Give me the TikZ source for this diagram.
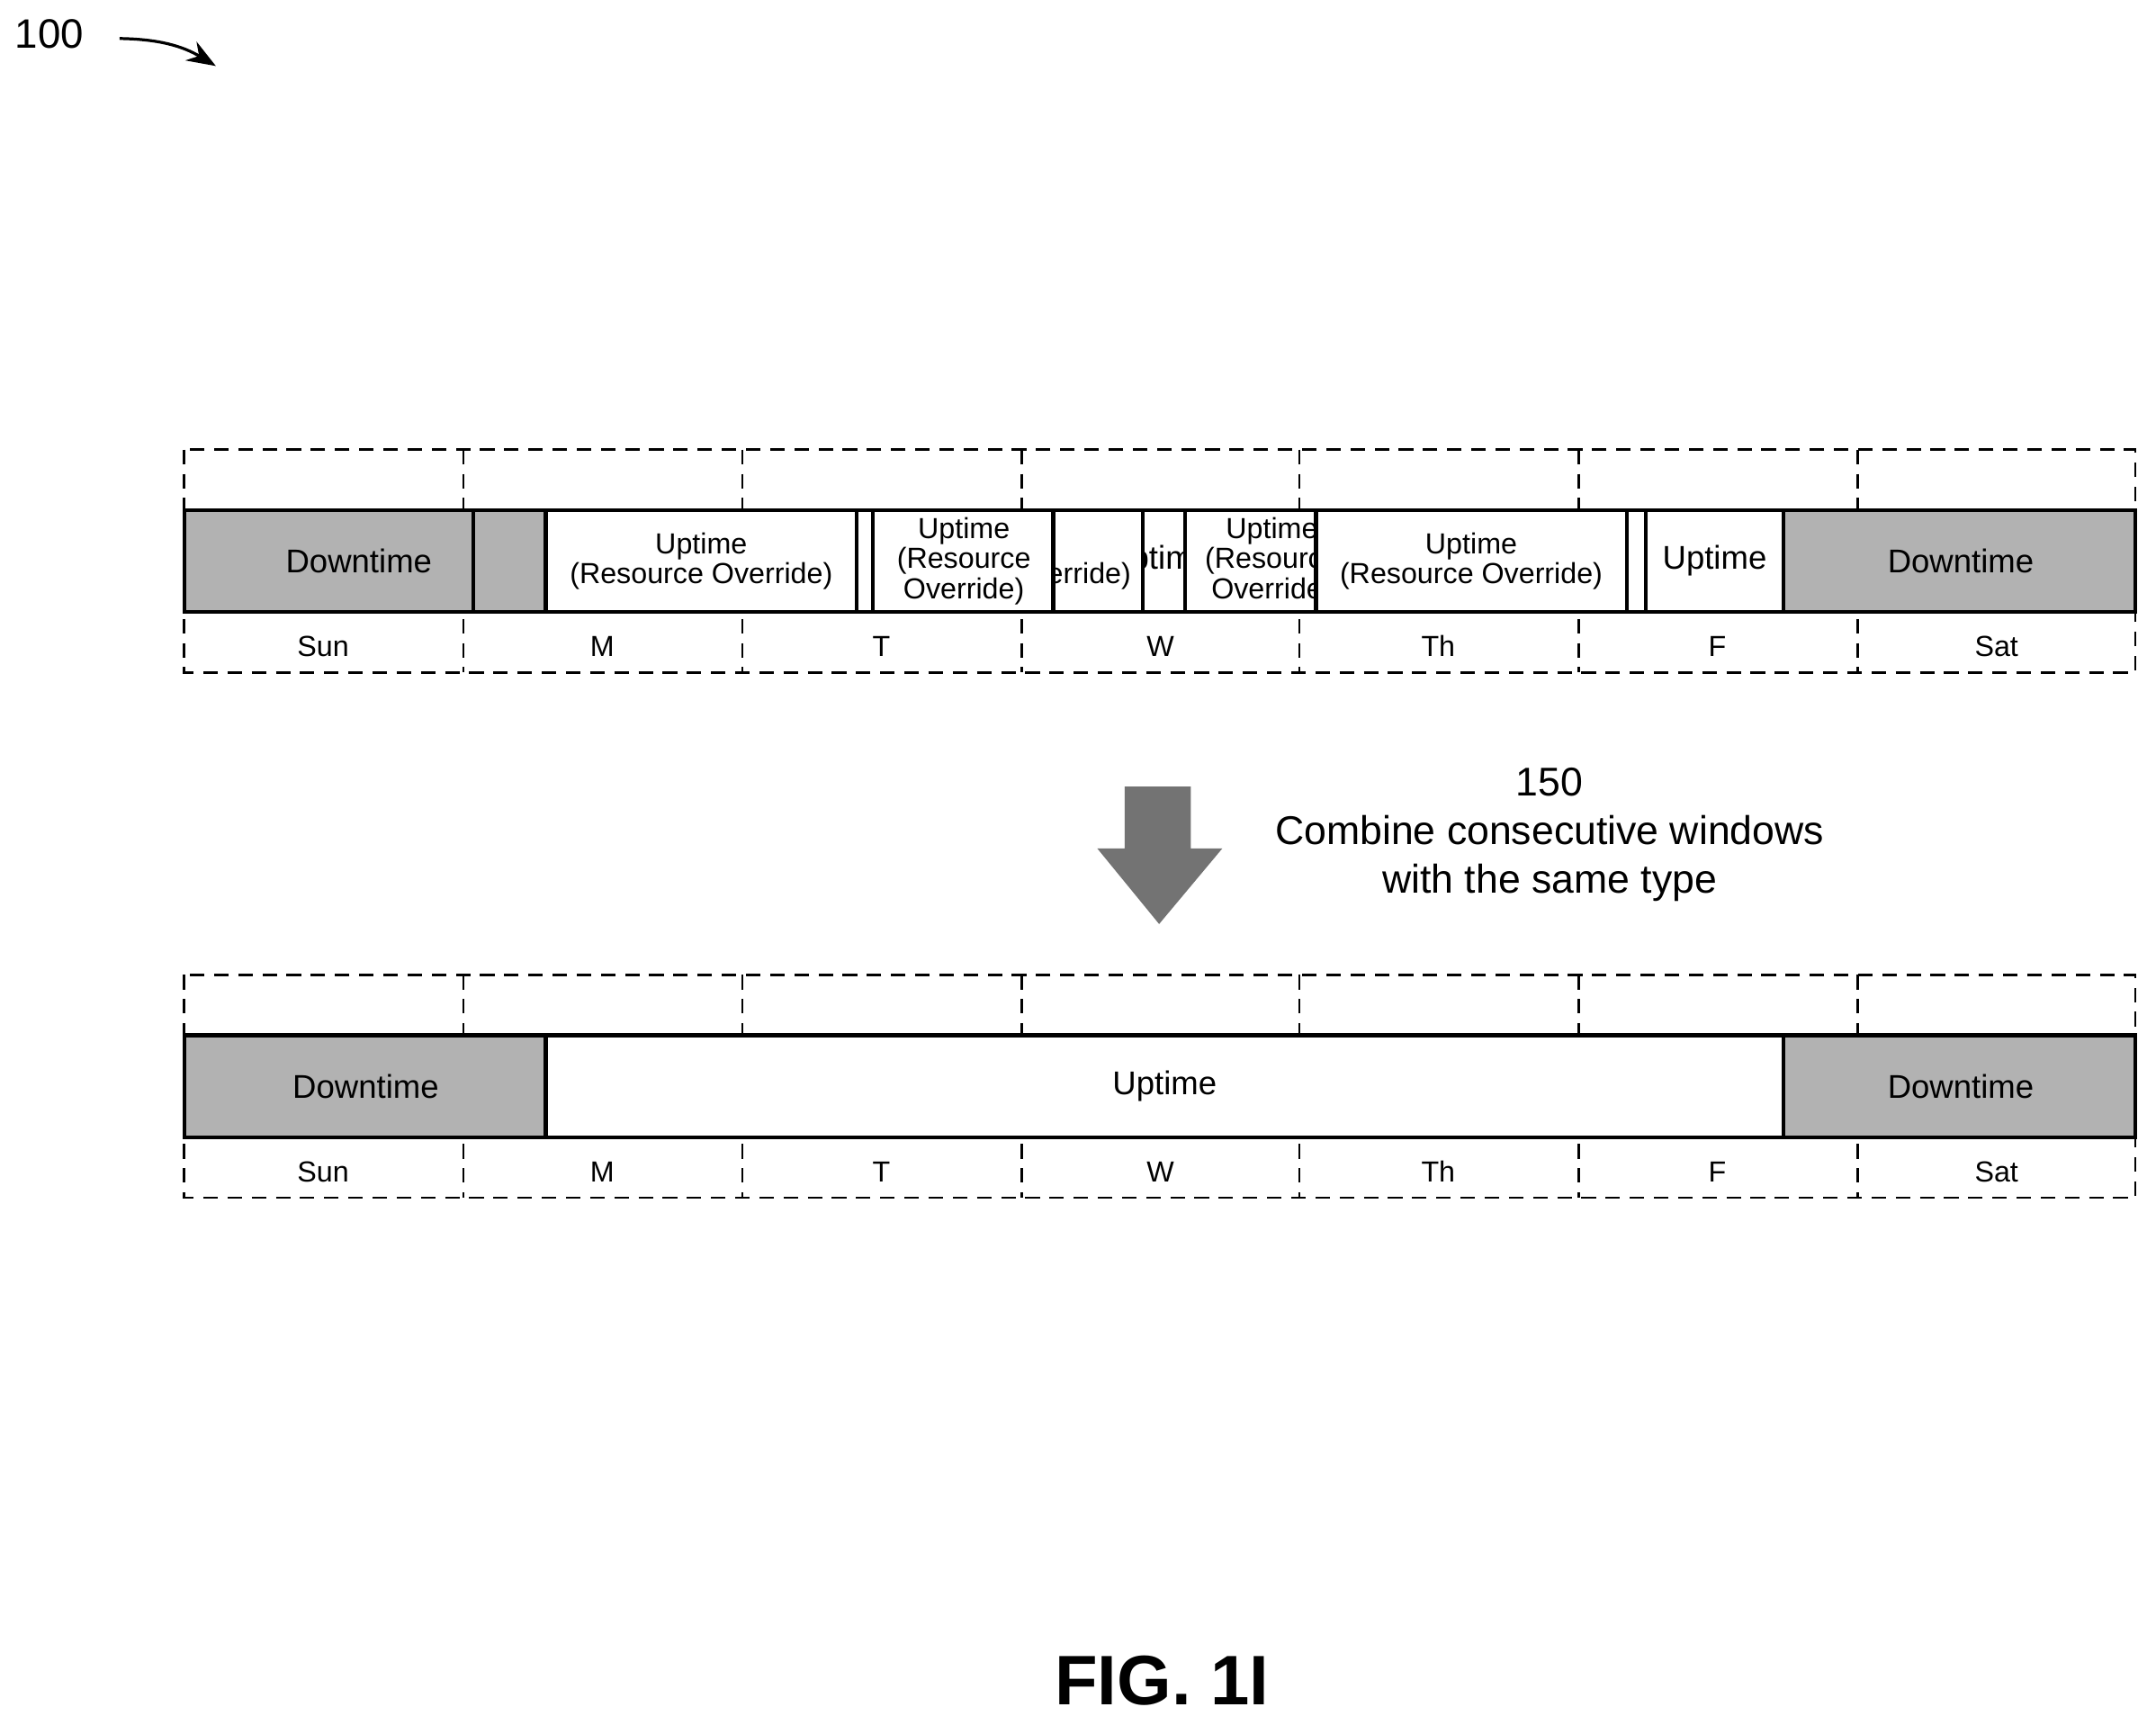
\documentclass[tikz,border=0pt]{standalone}
\usepackage{fontspec}
\setmainfont{Liberation Sans}
\usetikzlibrary{arrows.meta}
\tikzset{
  daygrid/.style={densely dashed,line width=0.5pt},
  down/.style={fill=black!30,draw=black,line width=0.8pt},
  up/.style={fill=white,draw=black,line width=0.8pt},
  lbl/.style={font=\fontsize{6}{6.2}\selectfont,align=center},
}
% week row: top y, band top, band bottom, bottom y
\newcommand{\weekgrid}[1]{%
  \draw[daygrid] (134,#1) rectangle (1553,#1+162);
  \foreach \x in {337,540,743,945,1148,1351}
    \draw[daygrid] (\x,#1) -- (\x,#1+162);
  \foreach \d/\x in {Sun/235,M/438,T/641,W/844,Th/1046,F/1249,Sat/1452}
    \node[lbl] at (\x,#1+143) {\d};
}
% window: x1, x2, y, text x, style, text
\newcommand{\win}[6]{%
  \draw[#5] (#1,#3) rectangle (#2,#3+74);
  \begin{scope}
    \clip (#1,#3) rectangle (#2,#3+74);
    \node[lbl] at (#4,#3+37) {#6};
  \end{scope}
}
\begin{document}
\begin{tikzpicture}[x=0.01cm,y=-0.01cm]
  \useasboundingbox (0,0) rectangle (1568,1254);
  % reference numeral
  \node[font=\fontsize{8.5}{10}\selectfont] (ref) at (36,25) {100};
  \draw[-{Stealth[length=6pt]},line width=0.6pt] (87,28) to[bend left=15] (157,48);
  % upper week
  \weekgrid{327}
  \win{134}{344}{371}{261}{down}{\fontsize{6.8}{8}\selectfont Downtime}
  \win{344}{397}{371}{370}{down}{}
  \win{397}{623}{371}{510}{up}{Uptime\\(Resource Override)}
  \win{623}{635}{371}{629}{up}{}
  \win{635}{831}{371}{727}{up}{Uptime\\(Resource Override)}
  \win{635}{766}{371}{701}{up}{Uptime\\(Resource\\Override)}
  \win{831}{862}{371}{843}{up}{\fontsize{6.8}{8}\selectfont Uptime}
  \win{862}{957}{371}{925}{up}{Uptime\\(Resource\\Override)}
  \win{957}{1183}{371}{1070}{up}{Uptime\\(Resource Override)}
  \win{1183}{1197}{371}{1190}{up}{}
  \win{1197}{1297}{371}{1247}{up}{\fontsize{6.8}{8}\selectfont Uptime}
  \win{1297}{1553}{371}{1426}{down}{\fontsize{6.8}{8}\selectfont Downtime}
  % combine arrow
  \fill[black!55] (818,572) -- (866,572) -- (866,617) -- (889,617) -- (843,672)
    -- (798,617) -- (818,617) -- cycle;
  \node[font=\fontsize{8.3}{10}\selectfont,align=center] (note) at (1127,607)
    {150\\Combine consecutive windows\\with the same type};
  % lower week
  \weekgrid{709}
  \win{134}{397}{753}{266}{down}{\fontsize{6.8}{8}\selectfont Downtime}
  \win{397}{1297}{753}{847}{up}{\fontsize{6.8}{8}\selectfont Uptime}
  \win{1297}{1553}{753}{1426}{down}{\fontsize{6.8}{8}\selectfont Downtime}
  % caption
  \node[font=\fontsize{14.5}{17}\bfseries\selectfont] (fig) at (845,1222) {FIG. 1I};
\end{tikzpicture}
\end{document}
